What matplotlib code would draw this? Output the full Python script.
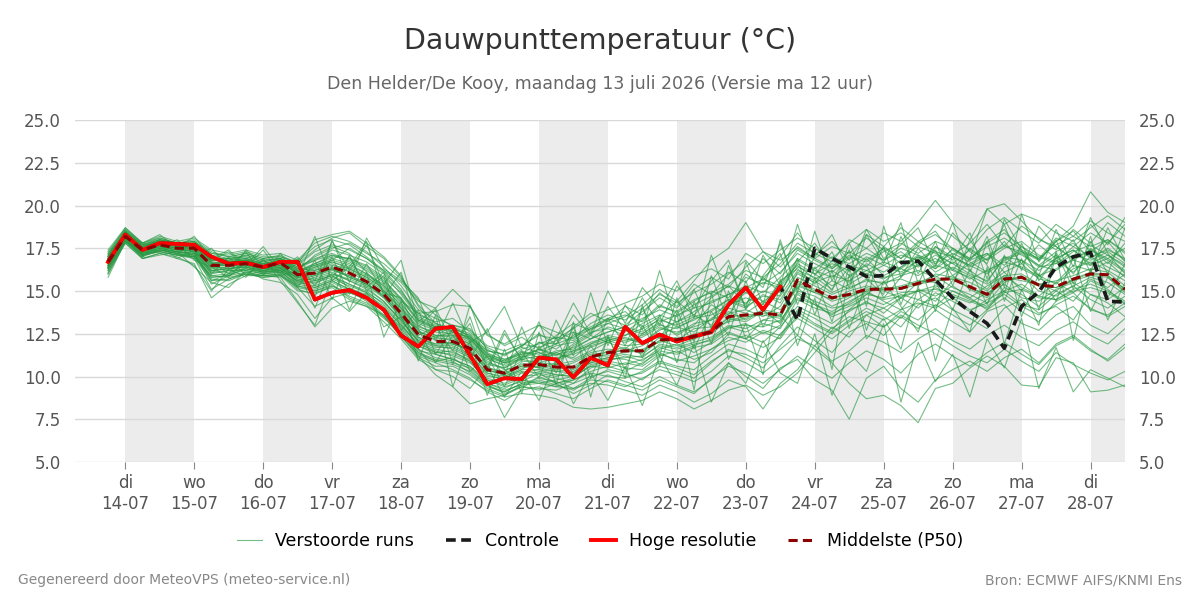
import numpy as np
import pandas as pd
import matplotlib
matplotlib.use("Agg")
import matplotlib.pyplot as plt

# 6-uurlijkse tijdstappen, 13-07 18 uur t/m 28-07 12 uur
times = pd.date_range("2026-07-13 18:00", periods=60, freq="6h")

day_names = ["di", "wo", "do", "vr", "za", "zo", "ma", "di", "wo", "do", "vr", "za", "zo", "ma", "di"]
day_dates = pd.date_range("2026-07-14", periods=15, freq="D")

# Hoge resolutie (tot 23-07 12 uur)
hres = [16.7, 18.3, 17.4, 17.8, 17.75, 17.7, 17.0, 16.6, 16.65, 16.4,
        16.7, 16.7, 14.5, 14.9, 15.05, 14.6, 13.9, 12.4, 11.75, 12.8,
        12.9, 11.25, 9.55, 9.9, 9.85, 11.1, 11.0, 9.95, 11.1, 10.65,
        12.9, 11.95, 12.45, 12.05, 12.35, 12.6, 14.2, 15.2, 13.9, 15.25]

# Controle (onder de hoge resolutie gelijk, daarna zichtbaar)
control = hres + [13.3, 17.5, 16.9, 16.4, 15.85, 15.9, 16.65, 16.75, 15.65, 14.6,
                  13.8, 13.1, 11.65, 14.1, 14.95, 16.4, 17.0, 17.25, 14.4, 14.35]

# Middelste (P50)
median = [16.7, 18.2, 17.4, 17.7, 17.5, 17.5, 16.5, 16.5, 16.6, 16.4,
          16.65, 15.95, 16.05, 16.4, 16.05, 15.55, 14.8, 13.7, 12.45, 12.05,
          12.05, 11.65, 10.4, 10.2, 10.65, 10.7, 10.55, 10.55, 11.15, 11.4,
          11.5, 11.5, 12.15, 12.15, 12.35, 12.6, 13.5, 13.6, 13.7, 13.6,
          15.65, 15.1, 14.6, 14.8, 15.1, 15.1, 15.15, 15.45, 15.7, 15.7,
          15.25, 14.8, 15.7, 15.8, 15.35, 15.25, 15.7, 16.0, 15.95, 15.1]

# Verstoorde runs
members = [
    [16.9, 18.4, 17.6, 17.9, 17.6, 17.8, 16.9, 16.7, 16.9, 16.6, 16.8, 16.2, 17.1, 17.6, 17.2, 16.1, 15.0, 13.9, 12.6, 12.3,
     12.1, 11.4, 10.6, 10.0, 10.4, 11.2, 10.9, 11.8, 12.4, 12.0, 11.6, 12.5, 13.1, 12.4, 13.0, 14.2, 13.6, 15.1, 14.0, 15.6,
     16.3, 15.4, 16.8, 15.9, 16.5, 14.6, 15.8, 16.9, 17.4, 15.9, 16.6, 17.2, 16.1, 15.0, 16.4, 17.1, 16.0, 17.5, 16.6, 17.8],
    [16.5, 18.1, 17.3, 17.6, 17.4, 17.4, 16.2, 16.3, 16.5, 16.2, 16.4, 15.5, 15.8, 16.1, 15.6, 15.2, 14.4, 13.2, 12.1, 11.8,
     11.6, 11.1, 10.1, 9.8, 10.2, 10.4, 10.1, 10.0, 10.9, 11.1, 11.0, 10.7, 11.6, 11.9, 11.4, 12.0, 12.8, 13.1, 12.5, 13.0,
     14.8, 14.2, 13.6, 14.3, 15.0, 14.4, 13.9, 15.1, 14.7, 15.3, 14.6, 13.9, 15.2, 14.8, 14.1, 15.0, 14.4, 15.6, 15.1, 14.2],
    [17.1, 18.6, 17.7, 18.1, 17.8, 18.0, 17.3, 17.0, 17.2, 16.9, 17.1, 16.6, 17.4, 18.1, 18.4, 17.6, 16.9, 15.8, 14.2, 13.1,
     12.6, 12.3, 11.4, 10.9, 11.3, 12.0, 11.6, 12.4, 12.9, 13.4, 13.0, 13.8, 14.6, 14.0, 15.1, 15.8, 15.2, 16.4, 17.3, 16.8,
     17.5, 16.9, 17.6, 17.2, 18.1, 17.4, 16.6, 17.8, 18.3, 17.5, 16.9, 17.8, 18.4, 17.6, 16.8, 17.9, 18.5, 17.3, 18.0, 17.2],
    [16.2, 17.9, 17.1, 17.4, 17.2, 16.9, 15.1, 15.7, 16.1, 15.9, 16.0, 15.1, 14.8, 15.3, 14.9, 14.6, 13.8, 12.9, 11.6, 11.1,
     10.9, 10.2, 9.4, 9.1, 9.6, 9.9, 9.7, 9.3, 9.9, 10.4, 10.2, 9.8, 10.6, 10.3, 9.9, 10.8, 11.6, 11.1, 10.5, 11.8,
     12.9, 12.1, 11.4, 12.6, 13.1, 12.4, 13.5, 12.8, 13.9, 13.2, 12.6, 13.8, 14.2, 13.1, 12.7, 13.6, 14.1, 13.0, 12.5, 13.4],
    [16.8, 18.3, 17.5, 17.8, 17.7, 17.6, 16.6, 16.6, 16.8, 16.5, 16.7, 16.0, 16.3, 16.7, 16.4, 15.9, 15.3, 14.1, 12.8, 12.4,
     12.3, 11.9, 10.7, 10.5, 11.0, 10.8, 11.1, 11.3, 11.7, 12.1, 11.8, 11.9, 12.8, 12.6, 12.9, 13.3, 14.4, 14.0, 14.8, 14.3,
     16.1, 15.6, 14.9, 15.4, 16.0, 15.7, 16.3, 15.9, 16.5, 16.2, 15.8, 15.1, 16.4, 16.8, 15.9, 15.4, 16.3, 16.7, 16.2, 15.6],
    [16.4, 18.0, 17.2, 17.5, 17.3, 17.1, 16.0, 16.2, 16.3, 16.0, 16.2, 15.6, 15.2, 15.6, 15.1, 14.8, 14.1, 13.0, 11.9, 11.5,
     11.2, 10.8, 9.9, 9.6, 10.0, 10.1, 9.9, 9.6, 10.5, 10.8, 10.5, 10.4, 11.2, 11.5, 11.0, 11.4, 12.5, 12.2, 11.7, 12.3,
     13.8, 13.1, 12.6, 13.3, 14.0, 13.5, 12.9, 14.2, 14.6, 13.9, 13.4, 12.8, 14.0, 14.5, 13.7, 14.1, 13.3, 14.8, 14.3, 13.5],
    [17.0, 18.5, 17.6, 18.0, 17.7, 17.9, 17.1, 16.9, 17.0, 16.7, 16.9, 16.4, 16.9, 17.2, 16.8, 16.3, 15.6, 14.6, 13.3, 12.8,
     12.6, 12.1, 11.0, 10.7, 11.2, 11.6, 11.3, 11.1, 11.9, 12.4, 12.2, 12.0, 12.7, 13.2, 13.6, 13.0, 14.1, 14.9, 14.4, 15.0,
     16.4, 16.0, 15.3, 15.8, 16.6, 16.1, 16.8, 16.4, 17.1, 16.6, 16.0, 15.6, 16.9, 17.3, 16.5, 16.2, 16.9, 17.4, 16.8, 16.1],
    [16.6, 18.2, 17.4, 17.7, 17.5, 17.3, 15.6, 16.0, 16.6, 16.3, 16.5, 15.7, 15.4, 16.0, 15.7, 15.3, 14.6, 13.5, 12.2, 11.9,
     12.0, 11.5, 10.4, 10.1, 10.8, 10.5, 10.3, 10.4, 11.0, 11.5, 11.7, 11.3, 12.1, 11.8, 12.2, 12.8, 13.2, 13.4, 13.9, 13.1,
     15.0, 14.7, 14.1, 14.6, 15.2, 15.0, 14.6, 15.5, 15.9, 15.2, 14.8, 14.3, 15.5, 15.9, 15.0, 14.7, 15.3, 15.8, 15.5, 14.8],
    [16.7, 18.3, 17.5, 17.8, 17.6, 17.7, 16.7, 16.6, 16.7, 16.4, 16.6, 16.1, 16.6, 17.0, 16.9, 16.5, 15.8, 14.9, 13.6, 13.2,
     13.4, 12.6, 11.7, 11.2, 11.8, 12.4, 12.2, 12.8, 13.5, 13.9, 14.3, 14.7, 15.4, 15.0, 15.9, 16.3, 15.7, 17.2, 16.6, 17.4,
     18.1, 17.5, 16.9, 17.8, 18.6, 17.9, 18.4, 17.6, 18.9, 18.2, 17.4, 18.6, 19.3, 18.5, 17.8, 18.9, 18.2, 19.1, 18.4, 17.9],
    [16.3, 18.0, 17.1, 17.3, 17.1, 17.0, 15.9, 15.8, 16.0, 15.8, 15.9, 15.3, 15.0, 15.4, 14.6, 14.2, 13.4, 12.5, 11.2, 10.8,
     10.4, 9.9, 9.1, 8.6, 9.2, 9.4, 9.0, 8.7, 9.3, 9.8, 9.5, 9.2, 9.8, 9.4, 9.0, 9.9, 10.6, 10.2, 9.6, 10.4,
     11.2, 10.5, 9.9, 10.8, 11.5, 11.0, 10.2, 11.3, 11.9, 11.2, 10.6, 11.4, 12.0, 11.3, 10.7, 11.8, 12.3, 11.5, 11.0, 11.9],
    [17.2, 18.7, 17.8, 18.2, 17.9, 18.1, 17.4, 17.2, 17.4, 17.1, 17.2, 16.8, 17.8, 18.2, 17.9, 17.3, 16.4, 15.3, 13.9, 13.4,
     13.0, 12.7, 11.8, 11.5, 11.9, 11.7, 12.1, 12.6, 12.2, 12.9, 12.6, 13.3, 14.2, 13.7, 14.4, 15.0, 14.6, 15.8, 15.4, 16.1,
     17.2, 16.6, 16.1, 16.9, 17.5, 16.8, 17.3, 16.5, 17.6, 17.0, 16.4, 16.9, 17.7, 17.1, 16.5, 17.3, 17.8, 16.9, 17.5, 16.8],
    [16.0, 17.8, 16.9, 17.2, 16.9, 16.6, 14.6, 15.4, 15.9, 15.9, 15.8, 14.4, 12.9, 14.0, 14.4, 14.1, 13.6, 12.6, 11.4, 11.0,
     10.8, 10.5, 9.6, 9.3, 9.8, 9.6, 9.4, 9.8, 10.2, 10.0, 9.9, 10.3, 10.9, 10.6, 10.4, 11.2, 11.9, 11.6, 11.1, 12.5,
     13.4, 12.8, 12.2, 13.0, 13.6, 12.9, 13.8, 13.3, 14.2, 13.6, 13.0, 13.9, 14.6, 13.8, 13.2, 14.4, 14.9, 13.9, 13.6, 14.3],
    [16.8, 18.4, 17.6, 17.9, 17.7, 17.6, 16.8, 16.8, 17.1, 16.8, 16.9, 16.3, 16.2, 16.5, 16.3, 15.8, 15.1, 14.0, 12.9, 12.6,
     12.5, 12.0, 10.9, 10.4, 10.6, 10.9, 11.4, 11.0, 11.5, 12.0, 12.3, 11.9, 12.4, 12.9, 12.6, 13.4, 14.0, 13.7, 14.4, 13.9,
     15.3, 14.9, 15.6, 15.1, 15.7, 15.4, 15.9, 16.2, 15.8, 16.4, 15.9, 15.4, 16.1, 16.6, 15.7, 15.5, 16.5, 16.2, 16.7, 15.8],
    [16.6, 18.1, 17.3, 17.6, 17.4, 17.4, 16.3, 16.4, 16.4, 16.1, 16.3, 15.8, 16.0, 16.3, 15.8, 15.4, 14.7, 13.6, 12.3, 11.8,
     11.8, 11.3, 10.2, 10.0, 10.5, 10.6, 10.4, 10.6, 11.2, 11.2, 11.4, 11.6, 12.0, 12.2, 12.4, 12.5, 13.3, 13.5, 13.6, 13.4,
     15.5, 15.0, 14.4, 14.7, 15.0, 15.2, 15.1, 15.4, 15.6, 15.7, 15.2, 14.7, 15.6, 15.8, 15.3, 15.2, 15.6, 15.9, 15.8, 15.0],
    [16.9, 18.3, 17.5, 17.7, 17.5, 17.6, 16.6, 16.5, 16.5, 16.3, 16.4, 15.9, 16.4, 16.8, 17.5, 16.9, 16.2, 15.5, 14.4, 14.0,
     15.1, 14.1, 12.5, 11.8, 12.3, 11.6, 12.4, 13.1, 12.7, 13.4, 13.8, 12.9, 13.5, 14.4, 13.6, 14.6, 15.3, 14.2, 15.8, 14.9,
     16.7, 17.8, 16.3, 17.1, 16.4, 17.6, 16.9, 17.9, 17.3, 16.2, 17.5, 16.8, 17.9, 16.6, 17.7, 16.9, 17.4, 16.5, 17.9, 16.7],
    [16.5, 18.1, 17.2, 17.5, 17.3, 17.2, 16.1, 16.2, 16.2, 16.0, 16.1, 15.4, 15.6, 15.9, 15.2, 14.7, 13.9, 12.8, 11.5, 11.3,
     11.0, 10.6, 9.6, 9.2, 9.5, 9.8, 9.5, 9.2, 9.8, 9.7, 9.4, 9.9, 10.4, 10.1, 9.7, 10.3, 11.2, 10.8, 10.2, 11.0,
     12.2, 11.8, 10.9, 11.5, 12.4, 12.0, 11.4, 12.2, 12.8, 12.1, 11.6, 12.4, 13.0, 12.3, 11.8, 12.7, 13.2, 12.4, 11.9, 12.8],
    [17.0, 18.5, 17.7, 18.0, 17.8, 17.7, 16.9, 16.9, 17.0, 16.7, 16.9, 16.5, 17.3, 17.7, 17.4, 16.9, 16.1, 15.0, 13.7, 13.1,
     12.8, 12.4, 11.3, 11.0, 11.4, 11.3, 11.8, 12.0, 12.6, 12.8, 12.4, 13.1, 13.6, 13.2, 13.8, 14.4, 14.8, 15.2, 15.7, 15.3,
     16.9, 16.3, 17.0, 16.6, 17.2, 16.8, 17.5, 17.1, 16.7, 17.4, 16.8, 17.2, 16.5, 17.6, 17.0, 16.6, 17.3, 17.7, 17.1, 16.4],
    [16.4, 18.0, 17.2, 17.4, 17.2, 17.1, 15.8, 15.9, 16.3, 16.1, 16.2, 15.5, 15.3, 15.7, 15.3, 14.9, 14.3, 13.3, 12.0, 11.4,
     11.3, 10.9, 9.8, 9.4, 9.7, 10.2, 9.6, 9.0, 9.5, 10.1, 9.7, 9.4, 10.0, 9.5, 9.1, 9.8, 10.8, 10.0, 9.3, 10.5,
     11.0, 9.8, 9.2, 7.5, 9.9, 10.6, 9.3, 8.5, 9.8, 10.4, 10.9, 10.3, 11.1, 11.6, 10.8, 11.9, 12.4, 11.6, 10.9, 11.7],
    [16.7, 18.2, 17.4, 17.8, 17.6, 17.5, 16.4, 16.6, 16.7, 16.5, 16.6, 16.0, 16.2, 16.6, 16.1, 15.6, 14.9, 13.8, 12.5, 12.2,
     12.2, 11.8, 10.5, 10.3, 10.9, 10.8, 10.7, 10.9, 11.4, 11.6, 11.5, 11.8, 12.4, 12.1, 12.8, 12.9, 13.7, 13.9, 13.5, 14.1,
     15.8, 15.3, 14.8, 15.2, 15.6, 15.5, 15.7, 15.3, 16.0, 15.8, 15.5, 15.0, 15.9, 16.0, 15.4, 15.6, 15.9, 16.3, 16.1, 15.3],
    [16.8, 18.4, 17.5, 17.8, 17.7, 17.8, 17.0, 16.8, 16.9, 16.6, 16.8, 16.3, 17.0, 17.5, 17.8, 17.2, 16.6, 15.7, 14.5, 13.6,
     12.9, 12.5, 11.5, 11.3, 11.8, 12.5, 11.9, 12.9, 13.7, 13.2, 14.1, 13.6, 14.9, 14.1, 15.4, 14.8, 16.0, 16.8, 15.6, 17.0,
     18.4, 17.1, 17.9, 16.8, 18.3, 17.6, 18.7, 17.9, 18.5, 17.1, 17.8, 18.9, 17.6, 18.8, 18.1, 17.4, 18.6, 17.8, 19.0, 18.2],
    [16.2, 17.9, 17.0, 17.4, 17.3, 17.2, 15.4, 15.9, 16.4, 16.1, 16.2, 15.2, 14.1, 14.6, 14.9, 14.5, 13.6, 12.4, 11.1, 10.6,
     10.6, 10.1, 9.3, 8.9, 9.5, 9.6, 9.8, 10.0, 10.6, 10.5, 10.8, 10.6, 11.3, 11.0, 10.8, 11.6, 12.1, 12.4, 12.0, 12.9,
     14.1, 13.6, 13.1, 13.8, 14.4, 13.7, 14.6, 14.0, 14.9, 14.4, 13.8, 14.5, 15.0, 14.2, 13.9, 14.8, 15.3, 14.5, 14.0, 14.7],
    [17.3, 18.6, 17.8, 18.1, 17.8, 17.9, 17.2, 17.1, 17.3, 17.0, 17.0, 16.7, 17.6, 18.0, 17.7, 17.0, 16.2, 15.1, 13.4, 12.9,
     12.9, 12.3, 11.2, 10.8, 11.5, 11.1, 11.5, 11.6, 12.2, 12.6, 12.9, 12.6, 13.4, 12.9, 13.3, 13.9, 14.5, 14.3, 15.0, 14.7,
     16.2, 15.8, 15.1, 16.4, 16.0, 16.5, 16.1, 16.8, 16.3, 17.0, 16.5, 16.0, 16.8, 17.2, 16.4, 16.6, 17.1, 16.8, 17.3, 16.6],
    [16.6, 18.2, 17.3, 17.6, 17.4, 17.3, 16.4, 16.3, 16.5, 16.2, 16.3, 15.8, 15.6, 15.9, 15.4, 15.0, 14.2, 13.1, 11.8, 11.4,
     11.5, 10.9, 9.7, 7.6, 9.3, 10.0, 9.6, 9.9, 10.7, 10.9, 11.2, 10.9, 11.7, 11.4, 11.8, 12.2, 12.9, 12.6, 13.1, 12.8,
     14.5, 14.0, 13.7, 14.1, 14.6, 14.2, 14.8, 14.5, 15.2, 14.7, 14.3, 14.9, 15.4, 14.6, 14.4, 15.1, 15.5, 14.8, 14.5, 15.2],
    [16.9, 18.4, 17.6, 17.9, 17.7, 17.7, 16.8, 16.7, 16.8, 16.5, 16.7, 16.2, 16.5, 16.9, 16.6, 16.0, 15.3, 14.4, 13.7, 13.8,
     14.2, 14.1, 12.4, 11.9, 12.5, 13.0, 12.6, 12.2, 13.1, 13.6, 13.3, 14.0, 14.8, 14.3, 14.9, 15.4, 16.1, 15.5, 16.9, 16.0,
     17.4, 16.8, 16.3, 17.0, 16.7, 17.3, 17.8, 17.2, 17.9, 17.5, 16.9, 17.6, 18.1, 17.4, 16.9, 17.7, 18.2, 17.6, 18.0, 17.3],
    [16.5, 18.0, 17.2, 17.5, 17.3, 17.1, 16.1, 16.1, 16.3, 16.1, 16.2, 15.6, 15.9, 16.2, 15.9, 15.5, 14.6, 13.4, 12.0, 11.6,
     11.4, 11.0, 10.0, 9.9, 10.3, 10.2, 10.0, 10.3, 10.8, 11.1, 11.3, 11.1, 11.9, 11.7, 12.0, 12.3, 13.0, 12.8, 13.3, 13.2,
     14.9, 14.4, 14.0, 14.2, 14.8, 14.6, 14.9, 15.0, 15.3, 15.0, 14.5, 14.1, 15.0, 15.4, 14.7, 14.5, 15.1, 15.4, 15.0, 14.4],
    [17.1, 18.5, 17.7, 18.0, 17.8, 17.9, 17.2, 17.0, 17.2, 16.9, 17.0, 16.6, 18.0, 18.3, 18.5, 17.8, 17.0, 15.9, 14.1, 12.8,
     12.4, 12.2, 11.1, 10.6, 11.1, 11.4, 11.0, 11.5, 12.0, 12.3, 12.1, 12.4, 13.0, 12.8, 13.4, 13.6, 14.2, 14.6, 14.2, 15.5,
     16.5, 15.7, 16.2, 15.5, 16.9, 15.9, 16.4, 17.0, 16.1, 16.7, 16.2, 15.5, 17.0, 16.3, 15.8, 16.8, 16.1, 17.0, 16.4, 15.9],
    [16.4, 18.0, 17.1, 17.4, 17.2, 17.0, 15.7, 15.6, 16.0, 15.9, 16.0, 15.3, 15.1, 15.5, 15.0, 14.4, 13.5, 12.3, 11.3, 10.9,
     11.1, 10.4, 9.5, 9.0, 9.4, 9.3, 9.2, 9.6, 10.0, 10.3, 10.0, 10.2, 10.8, 10.5, 10.1, 10.9, 11.5, 11.3, 10.8, 11.6,
     12.4, 11.6, 10.8, 9.6, 8.7, 8.9, 8.3, 7.3, 9.3, 9.6, 10.5, 11.2, 10.6, 9.5, 9.4, 11.1, 10.8, 9.1, 9.2, 9.5],
    [16.7, 18.3, 17.4, 17.7, 17.5, 17.5, 16.5, 16.5, 16.6, 16.4, 16.5, 15.9, 16.1, 16.4, 16.2, 15.7, 15.0, 14.0, 12.7, 12.1,
     11.9, 11.5, 10.3, 10.2, 10.7, 10.5, 10.8, 10.5, 11.1, 11.3, 11.6, 11.4, 12.3, 12.0, 12.5, 12.7, 13.4, 13.2, 13.8, 13.5,
     15.4, 14.9, 14.5, 15.0, 15.3, 15.1, 15.3, 15.6, 15.5, 15.9, 15.1, 14.6, 15.8, 15.6, 15.4, 15.0, 15.7, 16.1, 15.9, 15.1],
    [16.3, 17.9, 17.1, 17.3, 17.1, 16.9, 15.6, 15.7, 16.0, 15.8, 15.9, 15.0, 14.9, 15.2, 14.5, 14.1, 13.2, 12.2, 11.0, 10.4,
     10.3, 9.8, 9.2, 8.8, 9.0, 8.9, 8.7, 8.2, 8.1, 8.2, 8.4, 8.6, 9.1, 8.7, 8.1, 8.6, 9.2, 9.5, 8.9, 9.4,
     10.2, 11.4, 12.7, 13.9, 14.8, 15.5, 16.4, 17.1, 16.3, 17.5, 16.8, 17.9, 18.6, 17.3, 16.9, 18.1, 17.6, 18.4, 17.8, 18.9],
    [16.8, 18.3, 17.5, 17.8, 17.6, 17.6, 16.7, 16.6, 16.7, 16.5, 16.6, 16.1, 16.4, 16.7, 16.3, 15.8, 15.2, 14.2, 13.1, 12.7,
     13.0, 12.8, 11.6, 11.0, 11.3, 11.5, 11.9, 12.3, 12.8, 13.1, 12.8, 12.5, 13.2, 13.6, 14.0, 14.3, 14.8, 15.3, 14.9, 15.8,
     16.8, 16.2, 15.8, 16.5, 16.2, 16.7, 16.3, 17.0, 16.6, 17.2, 16.7, 16.1, 17.0, 16.8, 16.2, 16.9, 17.4, 16.6, 17.1, 16.5],
    [16.6, 18.2, 17.3, 17.6, 17.4, 17.3, 16.2, 16.3, 16.4, 16.2, 16.3, 15.6, 15.5, 15.8, 15.4, 14.9, 14.0, 13.0, 11.8, 11.3,
     11.0, 10.6, 9.8, 9.5, 9.9, 10.3, 10.1, 10.0, 10.6, 10.9, 10.7, 11.0, 11.5, 11.3, 11.7, 11.9, 12.6, 12.2, 12.7, 12.4,
     13.9, 13.4, 12.8, 13.5, 13.2, 12.9, 13.6, 13.0, 12.5, 11.8, 11.2, 10.8, 11.6, 10.9, 10.3, 11.4, 10.7, 10.2, 9.8, 10.3],
    [16.9, 18.4, 17.6, 17.9, 17.6, 17.8, 16.9, 16.7, 16.8, 16.6, 16.7, 16.2, 16.6, 17.1, 16.9, 16.4, 15.7, 14.5, 13.3, 12.9,
     12.7, 12.2, 11.2, 10.9, 11.6, 11.9, 12.3, 12.1, 12.8, 13.3, 13.6, 13.2, 14.1, 13.8, 14.5, 14.9, 15.4, 16.2, 15.8, 16.6,
     17.8, 17.2, 16.7, 18.0, 17.5, 18.4, 17.9, 19.0, 20.3, 19.0, 18.0, 19.8, 18.9, 19.5, 19.1, 18.4, 17.9, 18.7, 19.4, 18.6],
    [16.5, 18.1, 17.2, 17.5, 17.3, 17.2, 16.2, 16.3, 16.4, 16.2, 16.3, 15.7, 15.7, 16.0, 15.6, 15.1, 14.4, 13.3, 12.1, 11.7,
     11.7, 11.2, 10.2, 9.9, 10.4, 10.4, 10.3, 10.2, 10.8, 11.0, 11.1, 11.2, 11.8, 11.6, 11.9, 12.1, 12.9, 13.0, 12.9, 13.3,
     14.6, 14.2, 13.8, 14.4, 14.9, 14.5, 14.7, 15.0, 15.1, 14.8, 14.4, 14.0, 14.9, 15.1, 14.6, 14.5, 15.0, 15.2, 14.9, 14.3],
    [17.0, 18.5, 17.6, 18.0, 17.8, 17.7, 16.9, 16.9, 17.1, 16.8, 16.9, 16.4, 16.8, 17.4, 17.1, 16.7, 16.0, 14.8, 13.5, 13.0,
     12.8, 12.4, 11.3, 10.8, 11.0, 11.2, 11.4, 11.7, 12.2, 12.6, 12.9, 13.4, 13.9, 13.5, 14.2, 14.7, 15.3, 14.9, 15.5, 15.2,
     16.6, 16.0, 16.6, 16.2, 17.0, 16.5, 17.1, 16.8, 17.3, 17.0, 16.5, 17.1, 17.6, 17.3, 16.8, 17.9, 18.8, 20.8, 19.6, 19.0],
    [16.6, 18.2, 17.4, 17.7, 17.5, 17.4, 16.4, 16.4, 16.6, 16.3, 16.4, 15.8, 15.9, 16.3, 15.8, 15.4, 14.7, 13.6, 12.3, 11.9,
     11.9, 11.6, 10.4, 10.1, 10.6, 10.7, 10.5, 10.8, 11.3, 11.4, 11.5, 11.5, 12.1, 12.3, 12.2, 12.6, 13.5, 13.6, 13.7, 13.6,
     15.6, 15.1, 14.6, 14.8, 15.1, 15.1, 15.2, 15.5, 15.7, 15.7, 15.2, 14.8, 15.7, 15.8, 15.4, 15.2, 15.7, 16.0, 15.9, 15.1],
    [16.4, 17.9, 17.1, 17.4, 17.2, 17.0, 15.9, 16.0, 16.2, 16.0, 16.1, 15.4, 15.2, 15.6, 15.1, 14.7, 13.9, 12.7, 11.2, 10.1,
     9.4, 8.4, 8.7, 8.9, 9.4, 9.2, 9.6, 9.8, 10.3, 10.6, 10.3, 10.8, 11.4, 10.9, 11.2, 11.6, 12.3, 12.0, 12.6, 12.2,
     13.6, 13.0, 12.5, 13.2, 13.8, 13.3, 13.9, 14.3, 14.0, 14.6, 13.9, 14.3, 14.8, 14.1, 13.6, 14.2, 14.7, 14.0, 13.5, 14.1],
    [16.8, 18.3, 17.5, 17.8, 17.6, 17.6, 16.6, 16.7, 16.8, 16.5, 16.7, 16.1, 16.5, 16.8, 16.5, 16.0, 15.4, 14.3, 13.0, 12.4,
     12.4, 11.9, 10.8, 10.5, 11.1, 11.6, 11.2, 11.9, 12.5, 13.1, 13.5, 14.2, 15.1, 14.4, 15.6, 16.8, 17.5, 19.0, 17.3, 16.4,
     17.6, 16.9, 16.4, 17.3, 16.8, 17.5, 16.9, 17.6, 17.2, 16.6, 17.4, 16.8, 17.5, 17.9, 17.1, 16.7, 17.6, 17.0, 17.4, 16.9],
    [16.3, 18.0, 17.1, 17.3, 17.1, 17.0, 15.8, 15.9, 16.1, 15.9, 15.9, 15.2, 15.0, 15.3, 14.7, 14.3, 13.5, 12.5, 11.4, 10.9,
     10.7, 10.3, 9.5, 9.1, 9.6, 9.7, 9.4, 9.3, 9.6, 9.5, 9.2, 8.9, 9.5, 9.1, 8.5, 9.0, 9.8, 9.4, 8.1, 9.6,
     10.4, 11.8, 12.9, 12.3, 13.6, 14.0, 13.4, 14.5, 14.1, 15.0, 14.6, 15.3, 15.9, 15.2, 14.7, 15.5, 14.9, 15.7, 15.2, 16.0],
    [17.0, 18.4, 17.6, 17.9, 17.7, 17.7, 16.8, 16.8, 16.9, 16.6, 16.8, 16.3, 16.8, 17.1, 16.7, 16.2, 15.5, 14.5, 13.2, 12.8,
     12.7, 12.2, 11.1, 10.8, 11.2, 11.0, 11.3, 11.5, 11.8, 12.1, 12.4, 12.8, 13.3, 13.0, 13.5, 13.8, 14.5, 14.1, 14.7, 14.5,
     16.0, 15.5, 15.9, 15.6, 16.2, 15.8, 16.0, 16.5, 16.9, 16.3, 15.7, 16.2, 16.7, 16.4, 15.9, 16.3, 16.8, 16.5, 16.9, 16.2],
    [16.7, 18.2, 17.4, 17.7, 17.5, 17.5, 16.5, 16.5, 16.6, 16.3, 16.5, 15.9, 16.0, 16.3, 15.9, 15.4, 14.8, 13.7, 12.6, 12.3,
     12.6, 12.3, 11.5, 11.3, 11.7, 11.4, 10.9, 11.4, 11.9, 12.2, 12.0, 12.3, 12.9, 12.5, 13.1, 13.3, 13.8, 13.3, 13.9, 13.7,
     15.2, 14.3, 13.5, 13.9, 14.3, 14.0, 14.6, 15.0, 14.4, 15.6, 16.9, 19.8, 20.1, 19.1, 18.0, 17.6, 16.8, 17.4, 16.9, 17.5],
    [16.1, 17.8, 16.9, 17.2, 17.0, 16.5, 15.0, 16.3, 15.8, 16.9, 15.6, 14.3, 13.0, 15.8, 17.0, 15.2, 16.1, 13.4, 12.8, 10.8,
     12.4, 11.0, 12.8, 10.4, 9.6, 11.8, 10.2, 12.6, 11.0, 13.4, 11.8, 14.0, 12.2, 13.9, 11.6, 13.8, 12.4, 15.6, 12.9, 14.8,
     16.9, 13.6, 16.2, 12.8, 15.4, 17.6, 14.2, 16.8, 13.8, 17.1, 15.0, 17.9, 14.4, 16.9, 13.9, 17.3, 15.1, 18.2, 14.6, 16.6],
    [17.4, 18.7, 17.8, 18.3, 17.5, 18.2, 16.9, 17.4, 16.5, 17.6, 16.3, 17.0, 15.6, 17.9, 16.2, 17.7, 15.4, 16.8, 13.2, 14.0,
     11.9, 13.1, 10.3, 12.5, 11.0, 13.2, 10.6, 12.9, 9.9, 12.3, 10.4, 13.0, 11.2, 14.6, 12.0, 15.9, 13.1, 16.7, 14.2, 18.0,
     14.9, 18.5, 15.6, 17.4, 14.1, 18.8, 15.8, 17.5, 16.4, 19.0, 16.1, 18.2, 15.2, 19.5, 16.7, 18.0, 15.4, 17.9, 16.0, 18.7],
    [15.8, 17.9, 17.0, 17.7, 16.9, 17.4, 16.0, 17.0, 15.9, 16.8, 15.9, 16.2, 14.0, 16.5, 13.9, 16.1, 12.3, 14.4, 10.9, 13.6,
     9.4, 12.1, 8.9, 11.6, 9.0, 12.6, 9.5, 13.2, 8.8, 12.4, 9.9, 14.2, 10.6, 13.7, 9.2, 14.9, 11.0, 13.1, 10.1, 15.7,
     11.8, 14.6, 10.4, 16.0, 12.2, 13.4, 11.6, 15.3, 10.9, 14.0, 12.6, 16.4, 11.9, 15.1, 13.0, 17.2, 12.1, 16.3, 13.3, 15.5],
    [16.6, 18.5, 17.2, 17.9, 17.6, 17.0, 17.5, 16.4, 17.3, 15.9, 17.2, 15.8, 18.2, 15.6, 16.4, 17.9, 14.7, 16.1, 12.9, 13.9,
     10.7, 14.2, 11.4, 10.0, 12.9, 10.5, 13.3, 11.2, 14.9, 11.8, 14.2, 12.7, 16.2, 13.0, 15.1, 12.8, 16.5, 14.0, 17.1, 15.3,
     18.9, 15.9, 17.3, 15.2, 18.3, 16.6, 19.0, 15.4, 17.6, 16.8, 18.4, 15.7, 19.2, 17.4, 15.9, 18.6, 16.4, 19.3, 17.2, 16.0],
    [16.0, 18.0, 16.9, 17.1, 17.3, 16.4, 15.5, 15.2, 16.2, 15.7, 15.5, 14.8, 13.4, 14.6, 13.8, 14.9, 12.9, 13.5, 11.6, 10.4,
     10.0, 9.3, 10.6, 8.8, 10.3, 8.6, 10.9, 8.4, 10.2, 8.6, 10.6, 8.3, 11.2, 9.5, 11.9, 8.5, 10.8, 9.6, 12.1, 10.2,
     9.6, 12.5, 8.9, 11.4, 10.3, 13.1, 8.5, 12.0, 9.7, 11.3, 8.8, 12.2, 10.5, 13.4, 9.3, 11.7, 9.1, 10.4, 9.9, 9.4],
    [16.9, 18.3, 17.8, 17.5, 18.0, 17.2, 16.8, 17.3, 16.4, 17.4, 16.0, 16.9, 14.6, 18.0, 15.5, 18.1, 16.3, 15.6, 14.6, 12.1,
     14.3, 12.0, 12.6, 14.1, 11.7, 13.0, 12.2, 14.3, 12.5, 15.0, 13.1, 15.2, 14.0, 15.6, 13.4, 17.1, 14.4, 16.0, 15.2, 17.8,
     15.1, 17.0, 18.3, 16.1, 18.6, 16.9, 17.7, 18.7, 16.5, 18.4, 17.3, 16.6, 18.9, 16.2, 18.8, 17.6, 16.9, 18.9, 17.7, 19.3],
    [16.4, 18.1, 17.5, 17.3, 17.8, 16.8, 16.4, 15.8, 16.9, 16.1, 16.9, 15.2, 16.8, 14.5, 17.1, 15.0, 15.9, 12.7, 13.9, 11.3,
     12.8, 10.3, 11.2, 9.4, 11.5, 9.9, 12.3, 10.1, 11.8, 10.5, 12.9, 11.1, 13.6, 10.8, 14.4, 11.9, 15.0, 12.2, 13.3, 13.6,
     12.4, 15.8, 13.2, 16.4, 12.7, 15.6, 14.1, 12.6, 15.5, 13.9, 16.3, 14.2, 17.1, 13.5, 16.0, 14.4, 17.0, 13.8, 15.8, 14.9],
    [17.2, 18.4, 17.0, 18.0, 17.1, 17.9, 16.7, 16.0, 17.4, 16.5, 16.1, 16.6, 15.3, 17.0, 14.8, 16.6, 14.9, 14.6, 12.4, 12.9,
     11.5, 13.5, 10.5, 12.7, 10.9, 12.0, 11.9, 13.6, 12.4, 14.1, 12.7, 14.6, 13.0, 15.3, 14.0, 15.6, 16.8, 13.9, 15.9, 17.2,
     14.2, 16.4, 15.0, 17.8, 15.7, 14.8, 18.2, 16.0, 17.9, 15.3, 18.0, 16.5, 14.9, 17.8, 15.6, 16.9, 18.0, 16.1, 18.7, 16.8],
]

fig = plt.figure(figsize=(12, 6), dpi=100)
ax = fig.add_axes([0.0625, 0.23, 0.875, 0.57])

# grijze banden om de dag
for k in range(0, len(day_dates), 2):
    ax.axvspan(day_dates[k], day_dates[k] + pd.Timedelta(days=1), color="#ececec", lw=0, zorder=0.2)

for k, m in enumerate(members):
    ax.plot(times, m, color="#2a9a45", lw=0.8, alpha=0.65, zorder=2,
            label="Verstoorde runs" if k == 0 else None)
ax.plot(times, control, color="#1a1a1a", lw=2.6, ls=(0, (2.7, 1.5)), zorder=3, label="Controle")
ax.plot(times[:len(hres)], hres, color="#ff0000", lw=2.8, zorder=4, label="Hoge resolutie")
ax.plot(times, median, color="#8b0000", lw=2.2, ls=(0, (3.0, 1.7)), zorder=5, label="Middelste (P50)")

ax.set_xlim(pd.Timestamp("2026-07-13 06:30"), pd.Timestamp("2026-07-28 12:00"))
ax.set_ylim(5, 25)
ax.set_yticks(np.arange(5, 25.1, 2.5))
ax.yaxis.set_major_formatter(matplotlib.ticker.FormatStrFormatter("%.1f"))
ax.set_xticks(day_dates)
ax.set_xticklabels([f"{d}\n{t:%d-%m}" for d, t in zip(day_names, day_dates)])

ax.set_axisbelow(True)
ax.grid(axis="y", color="#d9d9d9", lw=1)
for s in ax.spines.values():
    s.set_visible(False)
ax.tick_params(axis="y", length=0, labelsize=12, labelcolor="#555555", pad=10,
               labelleft=True, labelright=True)
ax.tick_params(axis="x", length=5, color="#888888", labelsize=12, labelcolor="#555555", pad=4)

fig.text(0.5, 0.931, "Dauwpunttemperatuur (°C)", ha="center", va="center", fontsize=20.5, color="#333333")
fig.text(0.5, 0.86, "Den Helder/De Kooy, maandag 13 juli 2026 (Versie ma 12 uur)",
         ha="center", va="center", fontsize=12.5, color="#666666")
fig.text(0.015, 0.033, "Gegenereerd door MeteoVPS (meteo-service.nl)", ha="left", va="center",
         fontsize=10, color="#888888")
fig.text(0.985, 0.033, "Bron: ECMWF AIFS/KNMI Ens", ha="right", va="center", fontsize=10, color="#888888")

fig.legend(loc="center", bbox_to_anchor=(0.5, 0.098), ncol=4, frameon=False, fontsize=12.5,
           handlelength=1.45, handletextpad=0.75, columnspacing=1.85)

fig.savefig("out.png", dpi=100)
